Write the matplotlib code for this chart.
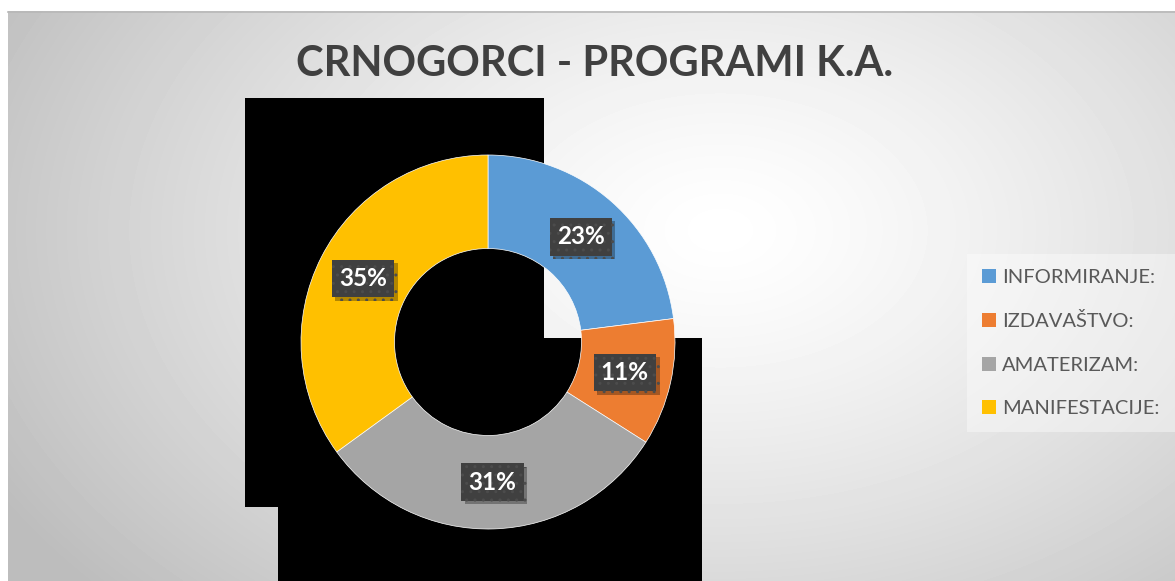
import numpy as np
import matplotlib
matplotlib.use("Agg")
import matplotlib.pyplot as plt
from matplotlib.patches import Rectangle, Patch
import matplotlib.patheffects as pe

title = "CRNOGORCI - PROGRAMI K.A."
categories = ["INFORMIRANJE:", "IZDAVAŠTVO:", "AMATERIZAM:", "MANIFESTACIJE:"]
shares = [23, 11, 31, 35]
colors = ["#5B9BD5", "#ED7D31", "#A5A5A5", "#FFC000"]

W, H = 1175, 581
fig = plt.figure(figsize=(W / 100, H / 100), dpi=100)
fig.patch.set_facecolor("white")

# background axes in pixel coordinates
bg = fig.add_axes([0, 0, 1, 1])
bg.set_xlim(0, W)
bg.set_ylim(H, 0)
bg.axis("off")

yy, xx = np.mgrid[11:H, 8:W]
d = np.sqrt(((xx - 720) / 650.0) ** 2 + ((yy - 230) / 430.0) ** 2)
shade = np.clip(1 - 0.19 * d ** 1.3, 0.74, 1)
bg.imshow(shade, cmap="gray", vmin=0, vmax=1, extent=(8, W, H, 11),
          interpolation="bilinear", aspect="auto")
bg.plot([8, W], [11.5, 11.5], color="#b8b8b8", lw=1.2)

# black blocks behind the ring
bg.add_patch(Rectangle((245, 98), 299, 409, color="black", lw=0))
bg.add_patch(Rectangle((278, 338), 424, 243, color="black", lw=0))

bg.text(595, 64, title, ha="center", va="center", fontsize=30,
        fontweight="bold", color="#404040", family="Lato")

# donut
cx, cy, R = 488, 342, 187
half = 200
ax = fig.add_axes([(cx - half) / W, (H - cy - half) / H, 2 * half / W, 2 * half / H])
wedges, _, autotexts = ax.pie(shares, colors=colors, startangle=90, counterclock=False,
                              radius=1, autopct="%1.0f%%", pctdistance=0.75,
                              wedgeprops=dict(width=0.5, edgecolor="white", linewidth=0.5))
lim = half / R
ax.set_xlim(-lim, lim)
ax.set_ylim(-lim, lim)
ax.axis("off")

for t in autotexts:
    t.set_color("white")
    t.set_fontsize(17.5)
    t.set_fontweight("bold")
    t.set_family("Lato")
    t.set_bbox(dict(boxstyle="square,pad=0.3", facecolor="#404040",
                    edgecolor="#4c4c4c", linewidth=0, hatch=".."))
    t.get_bbox_patch().set_path_effects([
        pe.SimplePatchShadow(offset=(2.5, -2.5), shadow_rgbFace="black", alpha=0.3),
        pe.Normal()])

handles = [Patch(facecolor=c, edgecolor="none") for c in colors]
leg = fig.legend(handles, categories, loc="center left",
                 bbox_to_anchor=(967 / W, 1 - 343 / H), frameon=True,
                 fancybox=False, labelspacing=1.3,
                 handlelength=0.7, handleheight=0.7, handletextpad=0.3,
                 borderpad=0.75, borderaxespad=0, prop={"family": "Lato", "size": 14.5})
leg.get_frame().set_facecolor("white")
leg.get_frame().set_alpha(0.4)
leg.get_frame().set_edgecolor("none")
for txt in leg.get_texts():
    txt.set_color("#595959")

fig.savefig("out.png", dpi=100)
